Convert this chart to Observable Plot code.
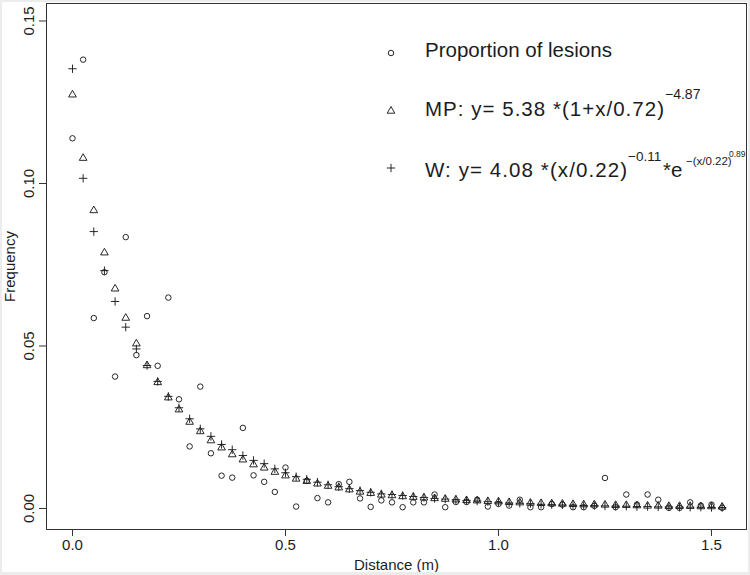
<!DOCTYPE html>
<html><head><meta charset="utf-8">
<script src="https://cdn.jsdelivr.net/npm/d3@7"></script>
<script src="https://cdn.jsdelivr.net/npm/@observablehq/plot@0.6"></script>
<style>
html,body{margin:0;padding:0;background:#fff;}
#wrap{position:relative;width:750px;height:575px;overflow:hidden;background:#fff;}
#edge{position:absolute;left:0;top:0;width:750px;height:575px;box-sizing:border-box;border:2px solid #ececec;border-bottom-width:3px;pointer-events:none;}
</style></head><body><div id="wrap"><div id="edge"></div></div>
<script>
// Distance bins (m)
const distance = [0,0.025,0.05,0.075,0.1,0.125,0.15,0.175,0.2,0.225,0.25,0.275,0.3,0.325,0.35,0.375,0.4,0.425,0.45,0.475,0.5,0.525,0.55,0.575,0.6,0.625,0.65,0.675,0.7,0.725,0.75,0.775,0.8,0.825,0.85,0.875,0.9,0.925,0.95,0.975,1.0,1.025,1.05,1.075,1.1,1.125,1.15,1.175,1.2,1.225,1.25,1.275,1.3,1.325,1.35,1.375,1.4,1.425,1.45,1.475,1.5,1.525];
// Observed proportion of lesions (circles)
const proportion = [0.1139,0.1381,0.0586,0.0727,0.0406,0.0835,0.0472,0.0592,0.0439,0.0649,0.0336,0.0191,0.0375,0.0170,0.0101,0.0095,0.0248,0.0102,0.0082,0.0051,0.0126,0.0006,0.0085,0.0032,0.0019,0.0075,0.0082,0.0031,0.0005,0.0025,0.0019,0.0004,0.0019,0.0019,0.0043,0.0004,0.0020,0.0020,0.0027,0.0006,0.0014,0.0009,0.0027,0.0004,0.0004,0.0014,0.0012,0.0004,0.0004,0.0008,0.0094,0.0004,0.0043,0.0012,0.0043,0.0027,0.0002,0.0002,0.0019,0.0009,0.0012,0.0002];
// MP model (triangles)
const mp = [0.1273,0.1078,0.0917,0.0787,0.0676,0.0586,0.0507,0.0440,0.0388,0.0341,0.0304,0.0266,0.0237,0.0209,0.0187,0.0166,0.0150,0.0135,0.0125,0.0112,0.0101,0.0091,0.0084,0.0076,0.0069,0.0064,0.0058,0.0051,0.0047,0.0042,0.0040,0.0037,0.0035,0.0033,0.0031,0.0029,0.0027,0.0025,0.0024,0.0022,0.0021,0.0019,0.0018,0.0017,0.0016,0.0015,0.0014,0.0013,0.0012,0.0012,0.0011,0.0010,0.0010,0.0009,0.0008,0.0008,0.0007,0.0007,0.0007,0.0006,0.0006,0.0005];
// W model (plus signs)
const weibull = [0.1353,0.1016,0.0852,0.0732,0.0637,0.0558,0.0491,0.0440,0.0391,0.0345,0.0310,0.0276,0.0245,0.0222,0.0197,0.0181,0.0163,0.0148,0.0138,0.0122,0.0110,0.0098,0.0090,0.0081,0.0073,0.0067,0.0061,0.0055,0.0050,0.0045,0.0043,0.0040,0.0037,0.0034,0.0031,0.0029,0.0027,0.0025,0.0023,0.0021,0.0019,0.0017,0.0016,0.0015,0.0013,0.0012,0.0011,0.0010,0.0009,0.0009,0.0008,0.0007,0.0007,0.0006,0.0006,0.0005,0.0005,0.0004,0.0004,0.0004,0.0003,0.0003];
const xTicks = [0, 0.5, 1.0, 1.5];
const yTicks = [0, 0.05, 0.10, 0.15];
const xLabel = "Distance (m)";
const yLabel = "Frequency";
const legendMain = ["Proportion of lesions", "MP: y= 5.38 *(1+x/0.72)", "W: y= 4.08 *(x/0.22)"];

const rows = distance.map((d, i) => ({d, p: proportion[i], mp: mp[i], w: weibull[i]}));
const font = "'Liberation Sans', Arial, Helvetica, sans-serif";
const ink = "#1c1c1c";
const triR = 2.85, plusR = 2.8, circR = 2.75;

const chart = Plot.plot({
  width: 750, height: 575,
  marginLeft: 46, marginRight: 4, marginTop: 3, marginBottom: 46,
  style: {fontFamily: font, background: "transparent", color: ink, fontSize: "15px", overflow: "visible"},
  x: {domain: [-0.0610, 1.5822]},
  y: {domain: [-0.00646, 0.15538]},
  marks: [
    Plot.frame({stroke: "#333", strokeWidth: 1}),
    Plot.axisX({ticks: xTicks, tickSize: 7, tickFormat: () => "", label: null, stroke: "#333"}),
    Plot.axisY({ticks: yTicks, tickSize: 7, tickFormat: () => "", label: null, stroke: "#333"}),
    Plot.text(xTicks, {x: d => d, frameAnchor: "bottom", dy: 16, lineAnchor: "middle", textAnchor: "middle", text: d3.format(".1f"), fontSize: 15, fill: ink}),
    Plot.text(yTicks, {y: d => d, frameAnchor: "left", dx: -17.5, rotate: -90, lineAnchor: "middle", textAnchor: "middle", text: d3.format(".2f"), fontSize: 15, fill: ink}),
    Plot.text([xLabel], {frameAnchor: "bottom", dy: 36, lineAnchor: "middle", textAnchor: "middle", text: d => d, fontSize: 15, fill: ink}),
    Plot.text([yLabel], {frameAnchor: "left", dx: -36, rotate: -90, lineAnchor: "middle", textAnchor: "middle", text: d => d, fontSize: 15, fill: ink}),
    Plot.dot(rows, {x: "d", y: "p", symbol: "circle", r: circR, stroke: ink, fill: "none", strokeWidth: 0.95}),
    Plot.dot(rows, {x: "d", y: "mp", symbol: "triangle", r: triR, stroke: ink, fill: "none", strokeWidth: 0.95}),
    Plot.dot(rows, {x: "d", y: "w", symbol: "plus", r: plusR, stroke: ink, fill: "none", strokeWidth: 0.95})
  ]
});
document.getElementById("wrap").prepend(chart);

// Legend
const svg = d3.select(chart);
const lg = svg.append("g").attr("font-family", font).attr("fill", ink).attr("text-anchor", "start");
const sym = (type, r, x, y) => lg.append("path")
  .attr("d", d3.symbol(type, r * r * Math.PI)())
  .attr("transform", `translate(${x},${y})`)
  .attr("fill", "none").attr("stroke", ink).attr("stroke-width", 0.95);
lg.append("circle").attr("cx", 391).attr("cy", 53).attr("r", circR)
  .attr("fill", "none").attr("stroke", ink).attr("stroke-width", 0.95);
sym(d3.symbolTriangle, triR, 391, 111);
sym(d3.symbolPlus, plusR, 391, 168);
const txt = (s, x, y, size, len) => {
  const t = lg.append("text").attr("x", x).attr("y", y).attr("font-size", size)
    .attr("text-anchor", "start").text(s);
  if (len) t.attr("textLength", len).attr("lengthAdjust", "spacing");
  return t;
};
txt(legendMain[0], 425, 57, 20.5);
txt(legendMain[1], 425, 116, 20.5, 239);
txt("\u22124.87", 665, 99, 14);
txt(legendMain[2], 425, 177, 20.5, 202);
txt("\u22120.11", 628, 161, 13.5);
txt("*e", 663, 177, 20.5);
txt("\u2212(x/0.22)", 686, 165, 11.5);
txt("0.89", 729, 157, 8.5);
</script>
</body></html>
